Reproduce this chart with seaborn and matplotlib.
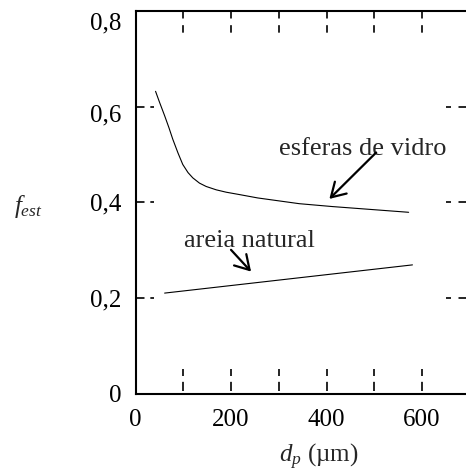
import matplotlib
matplotlib.use("Agg")
import matplotlib.pyplot as plt
import matplotlib.transforms as mtransforms
import seaborn as sns
import pandas as pd

# curve readings (d_p in um, f_est)
vidro_dp = [42, 50, 61, 70, 78, 89, 99, 110, 120, 134, 148, 169, 190, 218, 256, 343, 412, 572]
vidro_f = [0.632, 0.610, 0.581, 0.556, 0.532, 0.503, 0.479, 0.462, 0.451, 0.440, 0.433,
           0.426, 0.421, 0.416, 0.409, 0.397, 0.391, 0.379]
areia_dp = [61, 580]
areia_f = [0.210, 0.269]

x_ticks = [0, 200, 400, 600]
x_labels = ["0", "200", "400", "600"]
y_ticks = [0, 0.2, 0.4, 0.6, 0.8]
y_labels = ["0", "0,2", "0,4", "0,6", "0,8"]
x_dash = [100, 200, 300, 400, 500, 600]
y_dash = [0.2, 0.4, 0.6]

sns.set_style("white")
plt.rcParams["font.family"] = ["Liberation Serif", "DejaVu Serif"]
plt.rcParams["mathtext.fontset"] = "custom"
plt.rcParams["mathtext.rm"] = "Liberation Serif"
plt.rcParams["mathtext.it"] = "Liberation Serif:italic"

fig = plt.figure(figsize=(4.66, 4.73), dpi=100)
ax = fig.add_axes([135.5 / 466, 79.5 / 473, 334.25 / 466, 382.5 / 473])

df_v = pd.DataFrame({"dp": vidro_dp, "f": vidro_f})
df_a = pd.DataFrame({"dp": areia_dp, "f": areia_f})
sns.lineplot(data=df_v, x="dp", y="f", ax=ax, color="black", lw=0.8)
sns.lineplot(data=df_a, x="dp", y="f", ax=ax, color="black", lw=0.8)

ax.set_xlim(0, 700)
ax.set_ylim(0, 0.8)
ax.set_xticks(x_ticks)
ax.set_xticklabels(x_labels)
ax.set_yticks(y_ticks)
ax.set_yticklabels(y_labels)
ax.tick_params(axis="both", length=0, labelsize=18, colors="black")
ax.tick_params(axis="x", pad=11)
ax.tick_params(axis="y", pad=10)

# the upper y labels sit a little below their tick in the original
shifts = {"0,8": -10, "0,6": -6}
for lab in ax.get_yticklabels():
    dy = shifts.get(lab.get_text(), 0)
    if dy:
        lab.set_transform(lab.get_transform() +
                          mtransforms.ScaledTranslation(0, dy / 100, fig.dpi_scale_trans))

for s in ["left", "bottom", "top"]:
    ax.spines[s].set_visible(True)
    ax.spines[s].set_linewidth(1.5)
    ax.spines[s].set_color("black")
ax.spines["right"].set_visible(False)

# dashed inner ticks
ax.vlines(x_dash, 0.006, 0.052, colors="black", lw=1.2, linestyles=(0, (5.5, 3.5)))
ax.vlines(x_dash, 0.8, 0.752, colors="black", lw=1.2, linestyles=(0, (4.5, 4.0)))
ax.hlines(y_dash, 3, 38, colors="black", lw=1.2, linestyles=(0, (4.5, 3.5)))
ax.hlines(y_dash, 693, 650, colors="black", lw=1.2, linestyles=(0, (4.5, 4.5)))

ax.set_xlabel(r"$d_p$ (µm)", fontsize=18)
ax.xaxis.set_label_coords(0.549, -0.127)
ax.set_ylabel(r"$f_{est}$", fontsize=18, rotation=0, ha="center", va="center")
ax.yaxis.set_label_coords(-0.322, 0.488)

ax.text(475, 0.4995, "esferas de vidro", fontsize=19, ha="center", va="baseline")
ax.text(239, 0.3074, "areia natural", fontsize=19, ha="center", va="baseline")
ax.annotate("", xy=(406, 0.407), xytext=(504, 0.504),
            arrowprops=dict(arrowstyle="->,head_length=0.5,head_width=0.3",
                            lw=1.6, color="black", mutation_scale=20,
                            shrinkA=0, shrinkB=0))
ax.annotate("", xy=(242, 0.255), xytext=(200, 0.3005),
            arrowprops=dict(arrowstyle="->,head_length=0.5,head_width=0.3",
                            lw=1.6, color="black", mutation_scale=20,
                            shrinkA=0, shrinkB=0))

fig.savefig("out.png", dpi=100)
